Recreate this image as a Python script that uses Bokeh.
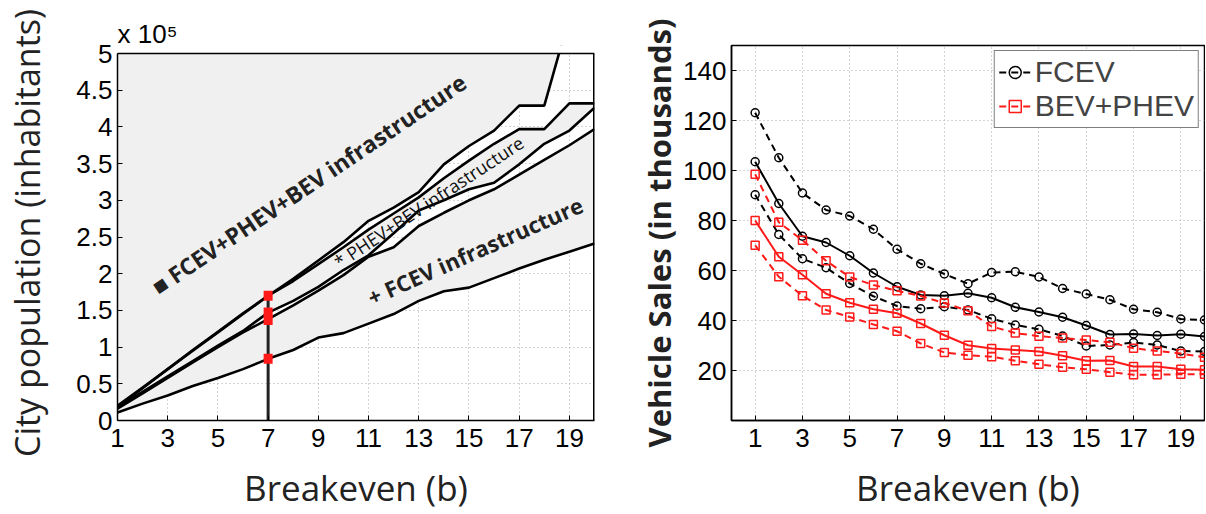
import math
from bokeh.plotting import figure
from bokeh.models import (Range1d, FixedTicker, NumeralTickFormatter, Label, Legend, LegendItem,
                          Span, Title)
from bokeh.layouts import row
from bokeh.embed import file_html
from bokeh.resources import INLINE

# ---------------- data: left panel (city population, x 10^5 inhabitants) ----------------
breakeven = list(range(1, 21))
pop_top = [0.20, 0.45, 0.70, 0.95, 1.20, 1.45, 1.70, 1.93, 2.18, 2.43, 2.72, 2.90, 3.11, 3.49, 3.74, 3.95, 4.29, 4.29, 5.50, 5.50]
pop_second = [0.18, 0.44, 0.70, 0.96, 1.21, 1.46, 1.70, 1.90, 2.13, 2.36, 2.60, 2.82, 3.04, 3.30, 3.54, 3.77, 3.97, 3.97, 4.32, 4.32]
pop_third = [0.18, 0.39, 0.60, 0.81, 1.02, 1.22, 1.47, 1.63, 1.82, 2.05, 2.25, 2.55, 2.86, 3.00, 3.15, 3.24, 3.49, 3.77, 3.95, 4.26]
pop_fourth = [0.16, 0.37, 0.58, 0.79, 1.00, 1.20, 1.38, 1.57, 1.77, 1.98, 2.23, 2.36, 2.65, 2.83, 3.00, 3.15, 3.35, 3.55, 3.75, 3.97]
pop_bottom = [0.11, 0.23, 0.34, 0.47, 0.58, 0.70, 0.84, 0.96, 1.13, 1.19, 1.32, 1.45, 1.63, 1.76, 1.81, 1.94, 2.07, 2.19, 2.30, 2.41]
cut_breakeven = 7
cut_levels = [0.84, 1.37, 1.47, 1.70]
pop_max = 5

# ---------------- data: right panel (vehicle sales, thousands) ----------------
fcev_high = [123.1, 105.1, 91.0, 84.2, 81.8, 76.5, 68.5, 62.7, 58.6, 54.7, 59.2, 59.5, 57.4, 52.8, 50.6, 48.3, 44.5, 43.3, 40.6, 40.2]
fcev_mid = [103.5, 86.8, 73.7, 71.2, 65.9, 59.0, 53.5, 50.2, 49.9, 50.9, 49.1, 45.3, 43.4, 41.3, 38.0, 34.4, 34.6, 34.0, 34.5, 33.6]
fcev_low = [90.3, 74.4, 64.7, 61.1, 54.8, 49.7, 45.8, 44.7, 45.5, 44.2, 40.7, 38.2, 36.5, 33.8, 29.8, 30.2, 31.2, 30.2, 27.8, 27.6]
bev_high = [98.5, 79.3, 72.1, 63.9, 57.4, 54.2, 51.9, 49.8, 47.0, 43.9, 37.6, 35.0, 33.7, 33.0, 32.2, 31.3, 28.9, 27.8, 26.8, 25.3]
bev_mid = [80.0, 65.5, 58.3, 50.7, 47.1, 44.5, 42.9, 38.8, 34.1, 30.1, 28.8, 28.2, 27.6, 25.9, 23.9, 24.0, 21.6, 21.6, 20.5, 20.3]
bev_low = [70.1, 57.5, 49.9, 44.2, 41.4, 38.4, 35.7, 30.8, 27.2, 26.1, 25.5, 23.9, 22.5, 21.3, 20.5, 19.3, 18.3, 18.3, 18.5, 18.5]

x_ticks = [1, 3, 5, 7, 9, 11, 13, 15, 17, 19]
pop_ticks = [0, 0.5, 1, 1.5, 2, 2.5, 3, 3.5, 4, 4.5, 5]
sales_ticks = [20, 40, 60, 80, 100, 120, 140]

TICK_FONT = "Liberation Sans"
LABEL_FONT = "Open Sans"
GREY = "#f0f0f0"
RED = "#ff1a1a"
FIG_H = 514
TOP = 45
BOTTOM = 94


def style_axes(p):
    for ax in (p.xaxis[0], p.yaxis[0]):
        ax.major_label_text_font = TICK_FONT
        ax.major_label_text_font_size = "26px"
        ax.major_label_text_color = "black"
        ax.axis_line_color = "black"
        ax.axis_line_width = 1.5
        ax.major_tick_in = 5
        ax.major_tick_out = 0
        ax.minor_tick_line_color = None
        ax.major_tick_line_color = "black"
        ax.axis_label_text_font = LABEL_FONT
        ax.axis_label_text_font_style = "normal"
        ax.axis_label_text_font_size = "35px"
        ax.axis_label_text_color = "#222222"
    p.xaxis[0].major_label_standoff = 8
    p.xaxis[0].axis_label_standoff = 14
    p.yaxis[0].major_label_standoff = 5
    p.grid.grid_line_color = "#aaaaaa"
    p.grid.grid_line_dash = "1 3"
    p.grid.grid_line_width = 1


# ================= left figure =================
frame_h = FIG_H - TOP - BOTTOM
y_top_left = pop_max * frame_h / (frame_h - 8)   # box top sits 8px below the right panel's top
x_lo, x_hi = 1, 20
p1 = figure(width=620, height=FIG_H, x_range=Range1d(x_lo, x_hi), y_range=Range1d(0, y_top_left),
            output_backend="svg", toolbar_location=None,
            min_border_left=117, min_border_right=26, min_border_top=TOP, min_border_bottom=BOTTOM)
p1.outline_line_color = None
p1.xaxis.ticker = FixedTicker(ticks=x_ticks)
p1.yaxis.ticker = FixedTicker(ticks=pop_ticks)
p1.yaxis.formatter = NumeralTickFormatter(format="0.[0]")
p1.xaxis.axis_label = "Breakeven (b)"
p1.yaxis.axis_label = "City population (inhabitants)"
style_axes(p1)
p1.yaxis.axis_label_text_font_size = "34px"
p1.yaxis.axis_label_standoff = 23
p1.yaxis.bounds = (0, pop_max)

top_edge = [pop_max] * len(breakeven)
p1.varea(x=breakeven, y1=pop_top, y2=top_edge, fill_color=GREY)
p1.varea(x=breakeven, y1=pop_third, y2=pop_second, fill_color=GREY)
p1.varea(x=breakeven, y1=pop_bottom, y2=pop_fourth, fill_color=GREY)
for ys in (pop_top, pop_second, pop_third, pop_fourth, pop_bottom):
    p1.line(breakeven, ys, line_color="black", line_width=2.6)
# everything above the axis box stays blank
p1.varea(x=[x_lo, x_hi], y1=[pop_max, pop_max], y2=[2 * y_top_left, 2 * y_top_left], fill_color="white")
p1.add_layout(Span(location=y_top_left, dimension="width", line_color="white", line_width=4))
# right edge of the axis box
p1.segment(x0=[x_hi], y0=[0], x1=[x_hi], y1=[pop_max], line_color="black", line_width=3)
p1.add_layout(Span(location=pop_max, dimension="width", line_color="black", line_width=1.5))

p1.segment(x0=[cut_breakeven], y0=[0], x1=[cut_breakeven], y1=[max(cut_levels)],
           line_color="#222222", line_width=3)
p1.rect(x=[cut_breakeven] * len(cut_levels), y=cut_levels, width=9, height=10,
        width_units="screen", height_units="screen", fill_color=RED, line_color=None)

p1.add_layout(Label(x=2.45, y=1.80, text="\u25A0 FCEV+PHEV+BEV infrastructure", angle=math.radians(34),
                    text_font=LABEL_FONT, text_font_size="23px", text_font_style="bold",
                    text_color="#222222", text_align="left", text_baseline="alphabetic"))
p1.add_layout(Label(x=9.7, y=2.14, text="* PHEV+BEV infrastructure", angle=math.radians(33.5),
                    text_font=LABEL_FONT, text_font_size="18px",
                    text_color="#111111", text_align="left", text_baseline="alphabetic"))
p1.add_layout(Label(x=11.0, y=1.67, text="+ FCEV infrastructure", angle=math.radians(24),
                    text_font=LABEL_FONT, text_font_size="22px", text_font_style="bold",
                    text_color="#222222", text_align="left", text_baseline="alphabetic"))
p1.add_layout(Title(text="x 10\u2075", align="left", text_font=TICK_FONT, text_font_size="26px",
                    text_font_style="normal", text_color="black", standoff=-6), "above")

# ================= right figure =================
p2 = figure(width=585, height=FIG_H, x_range=Range1d(0, 20), y_range=Range1d(0, 150),
            output_backend="svg", toolbar_location=None,
            min_border_left=111, min_border_right=1, min_border_top=TOP, min_border_bottom=BOTTOM)
p2.outline_line_color = "black"
p2.outline_line_width = 1.5
p2.xaxis.ticker = FixedTicker(ticks=x_ticks)
p2.yaxis.ticker = FixedTicker(ticks=sales_ticks)
p2.xaxis.axis_label = "Breakeven (b)"
p2.yaxis.axis_label = "Vehicle Sales (in thousands)"
style_axes(p2)
p2.yaxis.axis_label_text_font_size = "31px"
p2.yaxis.axis_label_text_font_style = "bold"
p2.yaxis.axis_label_standoff = 0

DASH = "7 5"
series = [
    (fcev_high, "black", DASH, "circle"),
    (fcev_mid, "black", "solid", "circle"),
    (fcev_low, "black", DASH, "circle"),
    (bev_high, RED, DASH, "square"),
    (bev_mid, RED, "solid", "square"),
    (bev_low, RED, DASH, "square"),
]
rends = []
for ys, col, dash, mk in series:
    ln = p2.line(breakeven, ys, line_color=col, line_width=2, line_dash=dash)
    sc = p2.scatter(breakeven, ys, marker=mk, size=8, line_color=col, line_width=1.5, fill_alpha=0)
    rends.append((ln, sc))

legend = Legend(items=[LegendItem(label="FCEV", renderers=list(rends[0])),
                       LegendItem(label="BEV+PHEV", renderers=list(rends[3]))],
                location="top_right")
legend.label_text_font = TICK_FONT
legend.label_text_font_size = "30px"
legend.border_line_color = "black"
legend.border_line_width = 1.5
legend.background_fill_color = "white"
legend.background_fill_alpha = 1
legend.margin = 5
legend.padding = 4
legend.spacing = 0
legend.glyph_width = 32
legend.glyph_height = 30
legend.label_standoff = 4
p2.add_layout(legend)

layout = row(p1, p2)
open("out.html", "w").write(file_html(layout, INLINE))
